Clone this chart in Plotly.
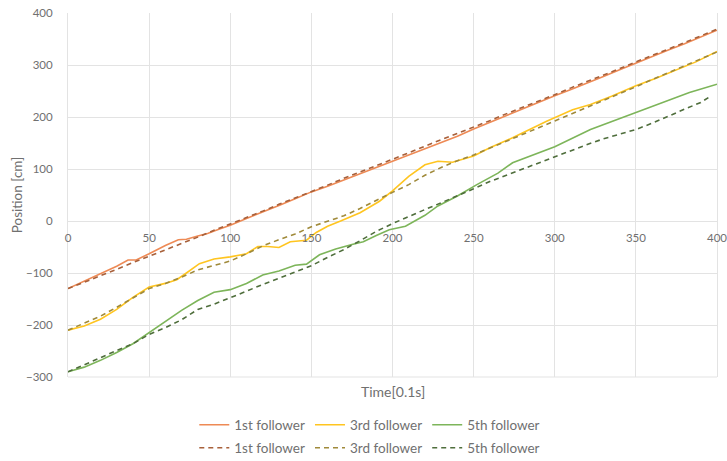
import plotly.graph_objects as go

# ---------------- data ----------------
x_1st = [0, 10, 20, 30, 37, 42, 50, 60, 68, 73, 80, 86, 93, 100, 110, 120, 130, 140, 150,
         160, 170, 180, 190, 200, 210, 220, 230, 240, 250, 260, 270, 280, 290, 300,
         310, 320, 330, 340, 350, 360, 370, 380, 390, 400]
y_1st = [-130, -116, -102, -87, -75, -75, -63, -47, -36, -35, -29, -24, -16, -8, 5, 17, 30, 43, 56,
         67, 79, 91, 102, 114, 126, 138, 150, 163, 177, 190, 203, 216, 229, 241,
         253, 265, 278, 291, 304, 316, 329, 341, 354, 367]

x_3rd = [0, 10, 20, 30, 40, 50, 60, 67, 73, 81, 90, 100, 110, 117, 123, 130, 137, 147, 153,
         160, 168, 180, 192, 200, 210, 220, 228, 237, 250, 260, 274, 285, 295, 311,
         322, 335, 350, 362, 373, 387, 400]
y_3rd = [-210, -202, -189, -170, -147, -127, -120, -113, -100, -82, -73, -69, -63, -49, -49, -51,
         -40, -37, -22, -10, 0, 16, 38, 58, 86, 108, 115, 113, 125, 141, 160, 177, 192, 214,
         224, 240, 260, 274, 288, 306, 326]

x_5th = [0, 10, 20, 30, 40, 50, 60, 70, 80, 90, 100, 110, 120, 130, 140, 147, 155, 165, 175,
         182, 190, 198, 208, 220, 228, 240, 252, 265, 274, 291, 300, 322, 350, 365, 383, 400]
y_5th = [-290, -281, -268, -253, -236, -215, -193, -172, -153, -137, -132, -120, -104, -96, -85,
         -83, -65, -54, -45, -40, -28, -17, -10, 11, 29, 48, 70, 92, 112, 133, 143, 176, 208,
         225, 247, 263]

x_ref = [0, 10, 20, 30, 40, 50, 60, 70, 80, 90, 100, 110, 120, 130, 140, 150, 160, 170, 180,
         190, 200, 210, 220, 230, 240, 250, 260, 270, 280, 290, 300, 310, 320, 330, 340, 350,
         360, 370, 380, 390, 400]
y_1st_ref = [-130, -118, -105, -93, -80, -68, -55, -43, -31, -18, -6, 7, 19, 32, 44, 57, 69, 82,
             94, 107, 119, 131, 144, 156, 168, 181, 193, 206, 218, 231, 243, 256, 268, 281,
             293, 306, 318, 331, 343, 356, 369]
y_3rd_ref = [-210, -197, -183, -166, -148, -130, -120, -108, -94, -86, -77, -63, -48, -36, -25,
             -11, 0, 10, 24, 40, 55, 70, 88, 103, 116, 127, 140, 154, 167, 180, 193, 206, 219,
             232, 245, 258, 272, 285, 298, 311, 325]
x_5th_ref = x_ref[:-1] + [395]
y_5th_ref = [-290, -277, -263, -249, -236, -218, -205, -190, -170, -160, -148, -135, -122, -110,
             -98, -86, -70, -55, -38, -20, -5, 9, 22, 35, 48, 62, 76, 88, 100, 112, 123, 135,
             147, 158, 167, 176, 188, 202, 215, 228, 238]

series_names = ["1st follower", "3rd follower", "5th follower"]
x_ticks = [0, 50, 100, 150, 200, 250, 300, 350, 400]
y_ticks = [-300, -200, -100, 0, 100, 200, 300, 400]

solid_colors = ["#EE8a55", "#FFC520", "#7DB55A"]
dash_colors = ["#A8603A", "#A08A3A", "#4F6E3C"]

FONT = "Lato, 'Open Sans', sans-serif"
GRID = "#E3E3E3"
TXT = "#707070"

fig = go.Figure()
for name, xs, ys, c in zip(series_names, [x_1st, x_3rd, x_5th], [y_1st, y_3rd, y_5th], solid_colors):
    fig.add_trace(go.Scatter(x=xs, y=ys, mode="lines", name=name,
                             line=dict(color=c, width=1.6), legend="legend"))
for name, xs, ys, c in zip(series_names, [x_ref, x_ref, x_5th_ref],
                           [y_1st_ref, y_3rd_ref, y_5th_ref], dash_colors):
    fig.add_trace(go.Scatter(x=xs, y=ys, mode="lines", name=name,
                             line=dict(color=c, width=1.6, dash="5px,4px"), legend="legend2"))

fig.update_layout(
    width=727, height=461,
    margin=dict(l=68, r=10, t=13, b=84, autoexpand=False),
    paper_bgcolor="white", plot_bgcolor="white",
    font=dict(family=FONT, size=11, color=TXT),
    showlegend=True,
    legend=dict(orientation="h", x=0.465, xanchor="center", y=-0.132, yanchor="middle",
                font=dict(size=13.5, color=TXT), itemwidth=30, tracegroupgap=0,
                bgcolor="rgba(0,0,0,0)"),
    legend2=dict(orientation="h", x=0.465, xanchor="center", y=-0.195, yanchor="middle",
                 font=dict(size=13.5, color=TXT), itemwidth=30, tracegroupgap=0,
                 bgcolor="rgba(0,0,0,0)"),
    xaxis=dict(range=[0, 400], tickvals=x_ticks, showgrid=True, gridcolor=GRID, gridwidth=1,
               zeroline=False, showline=False, anchor="free", position=3 / 7,
               ticks="", ticklabelstandoff=8, automargin=False, ticklabeloverflow="allow",
               tickfont=dict(size=11.5, color=TXT)),
    yaxis=dict(range=[-300, 400], tickvals=y_ticks, showgrid=True, gridcolor=GRID, gridwidth=1,
               zeroline=True, zerolinecolor=GRID, zerolinewidth=1, showline=True,
               linecolor=GRID, mirror=True, ticks="", ticklabelstandoff=12, automargin=False,
               ticklabeloverflow="allow",
               tickfont=dict(size=11.5, color=TXT),
               title=dict(text="Position [cm]", font=dict(size=13.5, color=TXT), standoff=0)),
    shapes=[dict(type="line", xref="paper", yref="paper", x0=0, x1=1, y0=0, y1=0,
                 line=dict(color=GRID, width=1), layer="below")],
    annotations=[dict(text="Time[0.1s]", xref="paper", yref="paper", x=0.5, y=-0.04,
                      xanchor="center", yanchor="middle", showarrow=False,
                      font=dict(size=14, color=TXT))],
)

fig.write_html("out.html", config={"displayModeBar": False},
               post_script="document.body.style.margin='0';")
